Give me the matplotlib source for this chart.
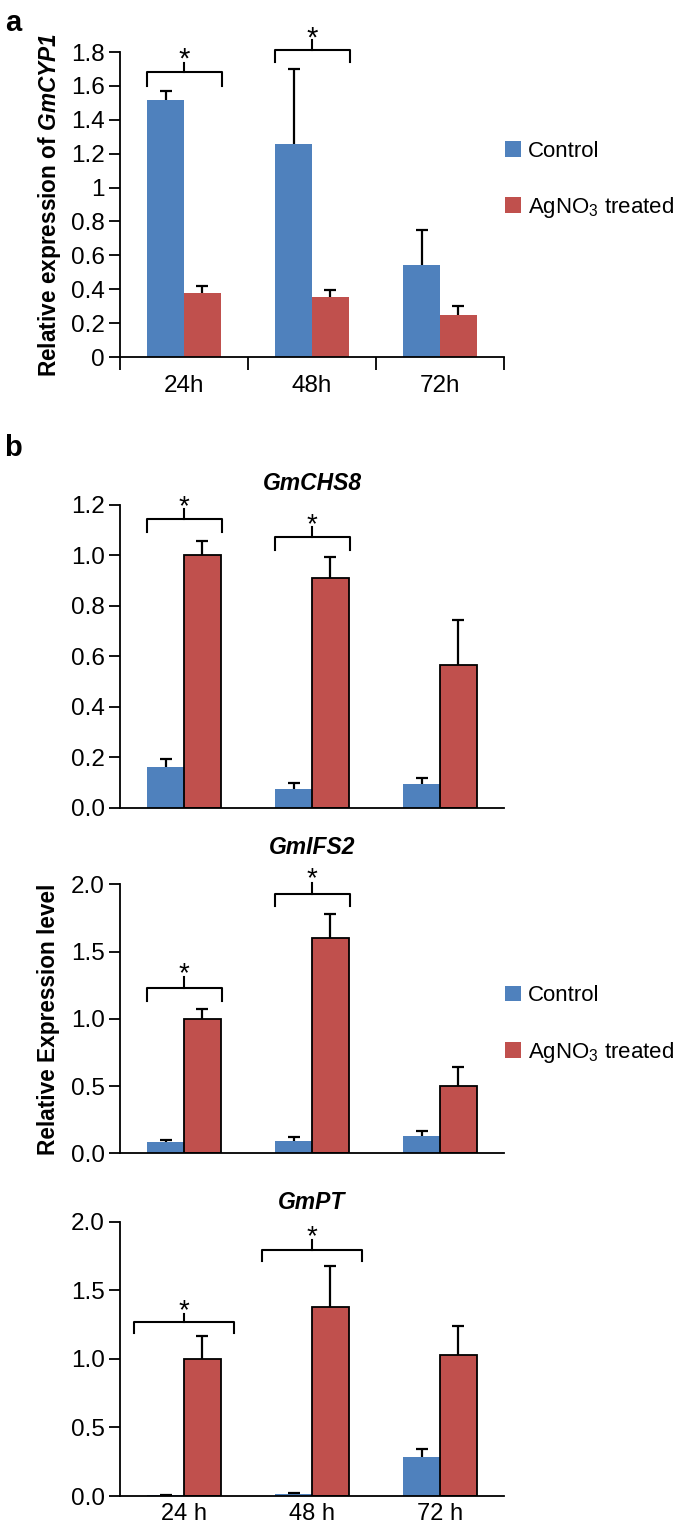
import numpy as np
import matplotlib
matplotlib.use('Agg')
import matplotlib.pyplot as plt

plt.rcParams['font.family'] = ['Liberation Sans', 'DejaVu Sans']
plt.rcParams['mathtext.fontset'] = 'custom'
plt.rcParams['mathtext.rm'] = 'Liberation Sans'
plt.rcParams['mathtext.it'] = 'Liberation Sans:italic'
plt.rcParams['mathtext.bf'] = 'Liberation Sans:bold'
plt.rcParams['mathtext.bfit'] = 'Liberation Sans:italic:bold'

BLUE = '#4F81BD'
RED = '#C0504D'

# --- 数据 ---
times_a = ['24h', '48h', '72h']
times_b = ['24 h', '48 h', '72 h']
series_names = ['Control', 'AgNO$_3$ treated']

cyp1_ctrl = [1.52, 1.26, 0.545]
cyp1_ctrl_err = [0.05, 0.44, 0.205]
cyp1_trt = [0.375, 0.355, 0.246]
cyp1_trt_err = [0.047, 0.04, 0.057]

chs8_ctrl = [0.163, 0.073, 0.095]
chs8_ctrl_err = [0.031, 0.024, 0.022]
chs8_trt = [1.0, 0.912, 0.564]
chs8_trt_err = [0.057, 0.082, 0.18]

ifs2_ctrl = [0.082, 0.091, 0.131]
ifs2_ctrl_err = [0.017, 0.032, 0.035]
ifs2_trt = [1.0, 1.60, 0.503]
ifs2_trt_err = [0.07, 0.182, 0.137]

pt_ctrl = [0.005, 0.015, 0.282]
pt_ctrl_err = [0.004, 0.01, 0.058]
pt_trt = [1.0, 1.378, 1.025]
pt_trt_err = [0.166, 0.298, 0.214]

# 显著性括号: (组索引, 横线高度, 两端下探, 竖线高度, 星号高度, 半宽)
sig_a = [(0, 1.68, 1.60, 1.735, 1.79, 0.293), (1, 1.81, 1.74, 1.87, 1.91, 0.293)]
sig_chs8 = [(0, 1.143, 1.093, 1.184, 1.215, 0.293), (1, 1.072, 1.022, 1.112, 1.143, 0.293)]
sig_ifs2 = [(0, 1.229, 1.135, 1.31, 1.37, 0.293), (1, 1.93, 1.835, 2.01, 2.08, 0.293)]
sig_pt = [(0, 1.266, 1.19, 1.33, 1.385, 0.388), (1, 1.79, 1.715, 1.866, 1.925, 0.388)]

W = 0.287
OFF = 0.1435
x = np.arange(3) + 0.5

TICK_FS = 17.5


def draw_bars(ax, ctrl, ctrl_err, trt, trt_err, red_edge):
    b1 = ax.bar(x - OFF, ctrl, W, color=BLUE, edgecolor='none', zorder=2)
    if red_edge:
        b2 = ax.bar(x + OFF, trt, W, color=RED, edgecolor='black', linewidth=1.3, zorder=2)
    else:
        b2 = ax.bar(x + OFF, trt, W, color=RED, edgecolor='none', zorder=2)
    for xs, ys, es in [(x - OFF, ctrl, ctrl_err), (x + OFF, trt, trt_err)]:
        eb = ax.errorbar(xs, ys, yerr=[np.zeros(3), es], fmt='none', ecolor='black',
                         elinewidth=1.6, capsize=4.5, capthick=1.6, zorder=3)
        eb[1][0].set_visible(False)
    return b1, b2


def draw_sig(ax, sigs, fs=20):
    for gi, yh, yl, ys, yst, hw in sigs:
        c = x[gi]
        ax.plot([c - hw, c - hw, c + hw, c + hw], [yl, yh, yh, yl], color='black', lw=1.5, clip_on=False)
        ax.plot([c, c], [yh, ys], color='black', lw=1.5, clip_on=False)
        # 星号字形偏上, 向下挪一点
        ax.annotate('*', (c, yst), xytext=(0, -4), textcoords='offset points',
                    ha='center', va='center', fontsize=fs, annotation_clip=False)


def style_axes(ax):
    for s in ['top', 'right']:
        ax.spines[s].set_visible(False)
    ax.spines['left'].set_linewidth(1.3)
    ax.spines['bottom'].set_linewidth(1.3)
    ax.set_xlim(0, 3)
    ax.tick_params(axis='y', direction='out', length=8, width=1.3, labelsize=TICK_FS, pad=3)


fig = plt.figure(figsize=(6.75, 15.27), dpi=100)
L, Wd = 0.1778, 0.5689
leg_kw = dict(loc='center left', frameon=False, borderaxespad=0, borderpad=0, fontsize=16,
              handlelength=0.72, handleheight=0.72, handletextpad=0.3, labelspacing=1.5)

# --- a ---
ax_a = fig.add_axes([L, 0.7662, Wd, 0.1997])
bars = draw_bars(ax_a, cyp1_ctrl, cyp1_ctrl_err, cyp1_trt, cyp1_trt_err, False)
draw_sig(ax_a, sig_a, fs=21)
style_axes(ax_a)
ax_a.set_ylim(0, 1.8)
ax_a.set_yticks(np.arange(0, 1.81, 0.2))
ax_a.set_yticklabels(['0', '0.2', '0.4', '0.6', '0.8', '1', '1.2', '1.4', '1.6', '1.8'])
ax_a.set_xticks([0, 1, 2, 3], minor=False)
ax_a.set_xticklabels([])
ax_a.set_xticks(x, minor=True)
ax_a.set_xticklabels(times_a, minor=True)
ax_a.tick_params(axis='x', which='major', direction='out', length=9, width=1.3)
ax_a.tick_params(axis='x', which='minor', length=0, labelsize=TICK_FS, pad=13)
ax_a.set_ylabel('Relative expression of $\\mathbfit{GmCYP1}$', fontsize=16.3, fontweight='bold', labelpad=6)
fig.legend(bars, series_names, bbox_to_anchor=(0.748, 0.8818), **leg_kw)
fig.text(0.008, 0.985, 'a', fontsize=21, fontweight='bold', va='center')

# --- b ---
fig.text(0.006, 0.7065, 'b', fontsize=21, fontweight='bold', va='center')

panels = [
    ('GmCHS8', [0.4711, 0.1982], chs8_ctrl, chs8_ctrl_err, chs8_trt, chs8_trt_err, sig_chs8,
     (0, 1.2), np.arange(0, 1.21, 0.2), 11),
    ('GmIFS2', [0.2447, 0.1762], ifs2_ctrl, ifs2_ctrl_err, ifs2_trt, ifs2_trt_err, sig_ifs2,
     (0, 2.0), np.arange(0, 2.01, 0.5), 22),
    ('GmPT', [0.0203, 0.1797], pt_ctrl, pt_ctrl_err, pt_trt, pt_trt_err, sig_pt,
     (0, 2.0), np.arange(0, 2.01, 0.5), 9),
]

axes_b = []
for name, (bot, h), c, ce, t, te, sig, ylim, yt, tpad in panels:
    ax = fig.add_axes([L, bot, Wd, h])
    draw_bars(ax, c, ce, t, te, True)
    draw_sig(ax, sig)
    style_axes(ax)
    ax.set_ylim(*ylim)
    ax.set_yticks(yt)
    ax.set_yticklabels(['{:.1f}'.format(v) for v in yt])
    ax.set_xticks(x)
    ax.set_xticklabels([])
    ax.tick_params(axis='x', length=0)
    ax.set_title(name, fontsize=16.5, fontweight='bold', fontstyle='italic', pad=tpad)
    axes_b.append(ax)

axes_b[2].set_xticklabels(times_b)
axes_b[2].tick_params(axis='x', labelsize=17, pad=5)
axes_b[1].set_ylabel('Relative Expression level', fontsize=16.3, fontweight='bold', labelpad=8)

# 图例方块无黑边, 与 a 相同
fig.legend(bars, series_names, bbox_to_anchor=(0.748, 0.3288), **leg_kw)

fig.savefig('out.png', dpi=100, facecolor='white')
